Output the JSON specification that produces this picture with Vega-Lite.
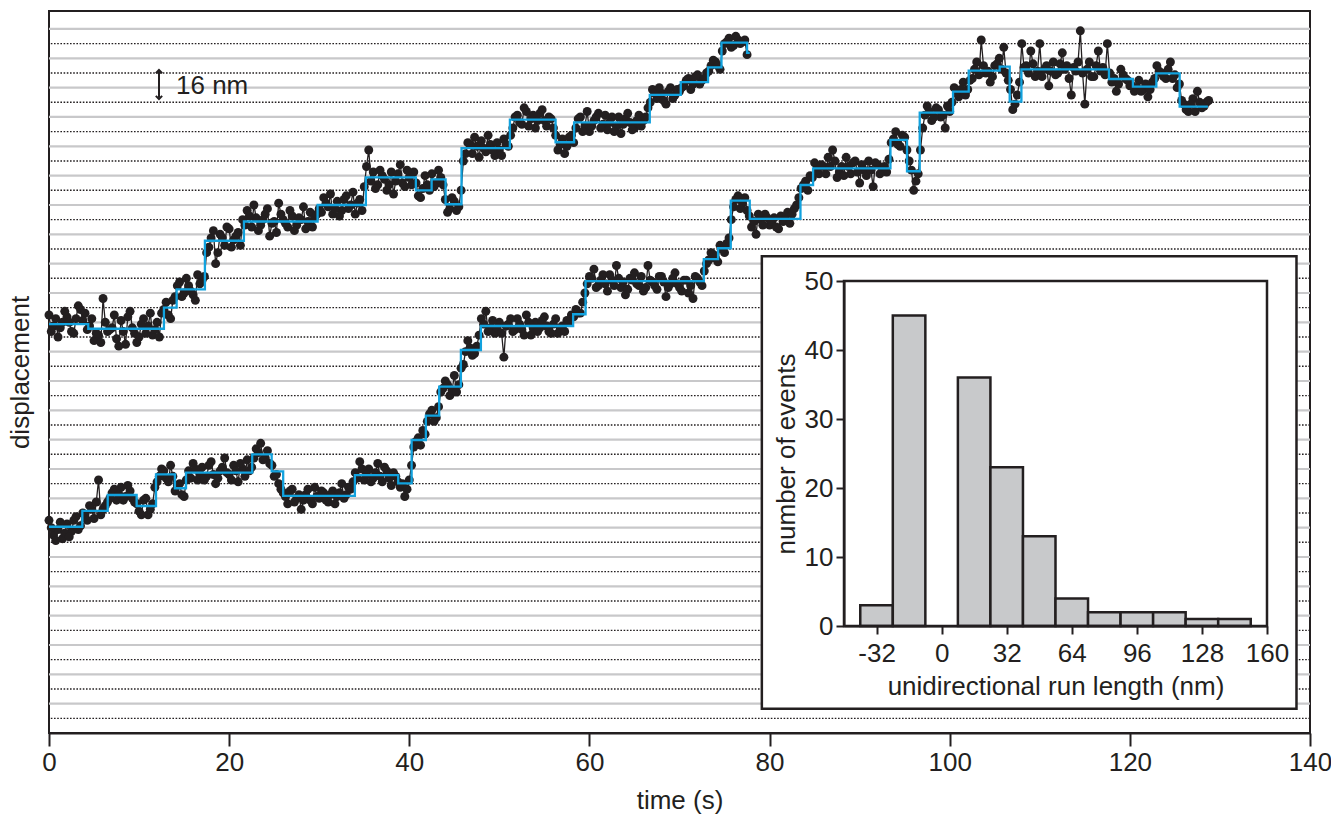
{
"$schema":"https://vega.github.io/schema/vega-lite/v6.json",
"width":1261,"height":722,
"autosize":{"type":"none"},
"padding":{"left":49,"top":11,"right":21,"bottom":82},
"background":"white",
"config":{"font":"Liberation Sans","view":{"stroke":"#231f20","strokeWidth":2},
"axis":{"labelFontSize":26,"titleFontSize":26,"titleFontWeight":"normal","labelColor":"#231f20","titleColor":"#231f20","domainColor":"#231f20","tickColor":"#231f20","domainWidth":2,"tickWidth":2,"grid":false,"labelFlush":false,"labelOverlap":false}},
"datasets":{
"grid":[{"y":16,"k":"g"},{"y":32,"k":"g"},{"y":48,"k":"g"},{"y":64,"k":"g"},{"y":80,"k":"g"},{"y":96,"k":"g"},{"y":112,"k":"g"},{"y":128,"k":"g"},{"y":144,"k":"g"},{"y":160,"k":"g"},{"y":176,"k":"g"},{"y":192,"k":"g"},{"y":208,"k":"g"},{"y":224,"k":"g"},{"y":240,"k":"g"},{"y":256,"k":"g"},{"y":272,"k":"g"},{"y":288,"k":"g"},{"y":304,"k":"g"},{"y":320,"k":"g"},{"y":336,"k":"g"},{"y":352,"k":"g"},{"y":368,"k":"g"},{"y":384,"k":"g"},
{"y":8,"k":"d"},{"y":24,"k":"d"},{"y":40,"k":"d"},{"y":56,"k":"d"},{"y":72,"k":"d"},{"y":88,"k":"d"},{"y":104,"k":"d"},{"y":120,"k":"d"},{"y":136,"k":"d"},{"y":152,"k":"d"},{"y":168,"k":"d"},{"y":184,"k":"d"},{"y":200,"k":"d"},{"y":216,"k":"d"},{"y":232,"k":"d"},{"y":248,"k":"d"},{"y":264,"k":"d"},{"y":280,"k":"d"},{"y":296,"k":"d"},{"y":312,"k":"d"},{"y":328,"k":"d"},{"y":344,"k":"d"},{"y":360,"k":"d"},{"y":376,"k":"d"}],
"tr1":[{"t":0,"y":228},{"t":0.5,"y":222},{"t":1,"y":216},{"t":1.5,"y":224},{"t":2,"y":227},{"t":2.5,"y":219},{"t":3,"y":226},{"t":3.5,"y":231},{"t":4,"y":229},{"t":4.5,"y":222},{"t":5,"y":214},{"t":5.5,"y":217},{"t":6,"y":237},{"t":6.5,"y":219},{"t":7,"y":221},{"t":7.5,"y":215},{"t":8,"y":225},{"t":8.5,"y":212},{"t":9,"y":230},{"t":9.5,"y":218},{"t":10,"y":216},{"t":10.5,"y":226},{"t":11,"y":222},{"t":11.5,"y":217},{"t":12,"y":224},{"t":12.5,"y":229},{"t":13,"y":235},{"t":13.5,"y":226},{"t":14,"y":238},{"t":14.5,"y":246},{"t":15,"y":240},{"t":15.5,"y":244},{"t":16,"y":239},{"t":16.5,"y":250},{"t":17,"y":247},{"t":17.5,"y":262},{"t":18,"y":270},{"t":18.5,"y":256},{"t":19,"y":272},{"t":19.5,"y":266},{"t":20,"y":275},{"t":20.5,"y":269},{"t":21,"y":273},{"t":21.5,"y":280},{"t":22,"y":285},{"t":22.5,"y":276},{"t":23,"y":281},{"t":23.5,"y":277},{"t":24,"y":283},{"t":24.5,"y":271},{"t":25,"y":279},{"t":25.5,"y":289},{"t":26,"y":280},{"t":26.5,"y":276},{"t":27,"y":282},{"t":27.5,"y":277},{"t":28,"y":280},{"t":28.5,"y":275},{"t":29,"y":284},{"t":29.5,"y":281},{"t":30,"y":286},{"t":30.5,"y":292},{"t":31,"y":287},{"t":31.5,"y":283},{"t":32,"y":290},{"t":32.5,"y":285},{"t":33,"y":293},{"t":33.5,"y":288},{"t":34,"y":283},{"t":34.5,"y":291},{"t":35,"y":298},{"t":35.5,"y":318},{"t":36,"y":306},{"t":36.5,"y":299},{"t":37,"y":304},{"t":37.5,"y":296},{"t":38,"y":306},{"t":38.5,"y":301},{"t":39,"y":310},{"t":39.5,"y":298},{"t":40,"y":303},{"t":40.5,"y":306},{"t":41,"y":293},{"t":41.5,"y":297},{"t":42,"y":299},{"t":42.5,"y":305},{"t":43,"y":300},{"t":43.5,"y":303},{"t":44,"y":291},{"t":44.5,"y":286},{"t":45,"y":290},{"t":45.5,"y":287},{"t":46,"y":312},{"t":46.5,"y":322},{"t":47,"y":316},{"t":47.5,"y":320},{"t":48,"y":323},{"t":48.5,"y":317},{"t":49,"y":321},{"t":49.5,"y":315},{"t":50,"y":318},{"t":50.5,"y":324},{"t":51,"y":320},{"t":51.5,"y":330},{"t":52,"y":337},{"t":52.5,"y":332},{"t":53,"y":339},{"t":53.5,"y":335},{"t":54,"y":330},{"t":54.5,"y":338},{"t":55,"y":334},{"t":55.5,"y":336},{"t":56,"y":330},{"t":56.5,"y":318},{"t":57,"y":324},{"t":57.5,"y":320},{"t":58,"y":326},{"t":58.5,"y":330},{"t":59,"y":336},{"t":59.5,"y":331},{"t":60,"y":328},{"t":60.5,"y":334},{"t":61,"y":338},{"t":61.5,"y":332},{"t":62,"y":329},{"t":62.5,"y":336},{"t":63,"y":331},{"t":63.5,"y":327},{"t":64,"y":335},{"t":64.5,"y":333},{"t":65,"y":330},{"t":65.5,"y":337},{"t":66,"y":334},{"t":66.5,"y":341},{"t":67,"y":351},{"t":67.5,"y":346},{"t":68,"y":349},{"t":68.5,"y":343},{"t":69,"y":352},{"t":69.5,"y":348},{"t":70,"y":350},{"t":70.5,"y":353},{"t":71,"y":357},{"t":71.5,"y":354},{"t":72,"y":359},{"t":72.5,"y":356},{"t":73,"y":360},{"t":73.5,"y":364},{"t":74,"y":366},{"t":74.5,"y":362},{"t":75,"y":376},{"t":75.5,"y":379},{"t":76,"y":375},{"t":76.5,"y":378},{"t":77,"y":377},{"t":77.5,"y":370},
{"t":0.25,"y":219},{"t":0.75,"y":226},{"t":1.25,"y":221},{"t":1.75,"y":230},{"t":2.25,"y":224},{"t":2.75,"y":218},{"t":3.25,"y":233},{"t":3.75,"y":225},{"t":4.25,"y":220},{"t":4.75,"y":226},{"t":5.25,"y":218},{"t":5.75,"y":213},{"t":6.25,"y":224},{"t":6.75,"y":220},{"t":7.25,"y":228},{"t":7.75,"y":211},{"t":8.25,"y":219},{"t":8.75,"y":227},{"t":9.25,"y":221},{"t":9.75,"y":213},{"t":10.25,"y":223},{"t":10.75,"y":218},{"t":11.25,"y":229},{"t":11.75,"y":220},{"t":12.25,"y":216},{"t":12.75,"y":231},{"t":13.25,"y":228},{"t":13.75,"y":236},{"t":14.25,"y":244},{"t":14.75,"y":238},{"t":15.25,"y":248},{"t":15.75,"y":241},{"t":16.25,"y":236},{"t":16.75,"y":245},{"t":17.25,"y":249},{"t":17.75,"y":265},{"t":18.25,"y":274},{"t":18.75,"y":262},{"t":19.25,"y":270},{"t":19.75,"y":276},{"t":20.25,"y":265},{"t":20.75,"y":271},{"t":21.25,"y":266},{"t":21.75,"y":277},{"t":22.25,"y":282},{"t":22.75,"y":288},{"t":23.25,"y":274},{"t":23.75,"y":280},{"t":24.25,"y":286},{"t":24.75,"y":278},{"t":25.25,"y":273},{"t":25.75,"y":283},{"t":26.25,"y":278},{"t":26.75,"y":285},{"t":27.25,"y":274},{"t":27.75,"y":281},{"t":28.25,"y":287},{"t":28.75,"y":279},{"t":29.25,"y":276},{"t":29.75,"y":283},{"t":30.25,"y":284},{"t":30.75,"y":289},{"t":31.25,"y":294},{"t":31.75,"y":286},{"t":32.25,"y":282},{"t":32.75,"y":291},{"t":33.25,"y":286},{"t":33.75,"y":295},{"t":34.25,"y":289},{"t":34.75,"y":285},{"t":35.25,"y":309},{"t":35.75,"y":301},{"t":36.25,"y":297},{"t":36.75,"y":307},{"t":37.25,"y":302},{"t":37.75,"y":299},{"t":38.25,"y":294},{"t":38.75,"y":305},{"t":39.25,"y":300},{"t":39.75,"y":307},{"t":40.25,"y":299},{"t":40.75,"y":300},{"t":41.25,"y":292},{"t":41.75,"y":304},{"t":42.25,"y":296},{"t":42.75,"y":298},{"t":43.25,"y":307},{"t":43.75,"y":299},{"t":44.25,"y":284},{"t":44.75,"y":292},{"t":45.25,"y":285},{"t":45.75,"y":296},{"t":46.25,"y":316},{"t":46.75,"y":321},{"t":47.25,"y":325},{"t":47.75,"y":314},{"t":48.25,"y":319},{"t":48.75,"y":326},{"t":49.25,"y":318},{"t":49.75,"y":322},{"t":50.25,"y":315},{"t":50.75,"y":321},{"t":51.25,"y":326},{"t":51.75,"y":336},{"t":52.25,"y":333},{"t":52.75,"y":341},{"t":53.25,"y":331},{"t":53.75,"y":337},{"t":54.25,"y":334},{"t":54.75,"y":340},{"t":55.25,"y":331},{"t":55.75,"y":335},{"t":56.25,"y":326},{"t":56.75,"y":321},{"t":57.25,"y":316},{"t":57.75,"y":325},{"t":58.25,"y":322},{"t":58.75,"y":335},{"t":59.25,"y":328},{"t":59.75,"y":339},{"t":60.25,"y":331},{"t":60.75,"y":336},{"t":61.25,"y":330},{"t":61.75,"y":337},{"t":62.25,"y":333},{"t":62.75,"y":328},{"t":63.25,"y":336},{"t":63.75,"y":332},{"t":64.25,"y":338},{"t":64.75,"y":329},{"t":65.25,"y":334},{"t":65.75,"y":331},{"t":66.25,"y":336},{"t":66.75,"y":344},{"t":67.25,"y":349},{"t":67.75,"y":352},{"t":68.25,"y":345},{"t":68.75,"y":350},{"t":69.25,"y":346},{"t":69.75,"y":351},{"t":70.25,"y":352},{"t":70.75,"y":356},{"t":71.25,"y":351},{"t":71.75,"y":358},{"t":72.25,"y":354},{"t":72.75,"y":357},{"t":73.25,"y":361},{"t":73.75,"y":367},{"t":74.25,"y":364},{"t":74.75,"y":372},{"t":75.25,"y":377},{"t":75.75,"y":374},{"t":76.25,"y":380},{"t":76.75,"y":376},{"t":77.25,"y":378}],
"tr2":[{"t":0,"y":116},{"t":0.5,"y":108},{"t":1,"y":111},{"t":1.5,"y":106},{"t":2,"y":114},{"t":2.5,"y":110},{"t":3,"y":118},{"t":3.5,"y":113},{"t":4,"y":119},{"t":4.5,"y":124},{"t":5,"y":117},{"t":5.5,"y":138},{"t":6,"y":122},{"t":6.5,"y":126},{"t":7,"y":131},{"t":7.5,"y":127},{"t":8,"y":134},{"t":8.5,"y":129},{"t":9,"y":132},{"t":9.5,"y":126},{"t":10,"y":121},{"t":10.5,"y":127},{"t":11,"y":119},{"t":11.5,"y":125},{"t":12,"y":137},{"t":12.5,"y":144},{"t":13,"y":139},{"t":13.5,"y":146},{"t":14,"y":132},{"t":14.5,"y":136},{"t":15,"y":129},{"t":15.5,"y":143},{"t":16,"y":147},{"t":16.5,"y":138},{"t":17,"y":145},{"t":17.5,"y":140},{"t":18,"y":148},{"t":18.5,"y":136},{"t":19,"y":143},{"t":19.5,"y":150},{"t":20,"y":141},{"t":20.5,"y":146},{"t":21,"y":137},{"t":21.5,"y":144},{"t":22,"y":149},{"t":22.5,"y":145},{"t":23,"y":155},{"t":23.5,"y":158},{"t":24,"y":150},{"t":24.5,"y":147},{"t":25,"y":140},{"t":25.5,"y":136},{"t":26,"y":131},{"t":26.5,"y":125},{"t":27,"y":133},{"t":27.5,"y":128},{"t":28,"y":122},{"t":28.5,"y":130},{"t":29,"y":127},{"t":29.5,"y":134},{"t":30,"y":128},{"t":30.5,"y":131},{"t":31,"y":126},{"t":31.5,"y":132},{"t":32,"y":129},{"t":32.5,"y":136},{"t":33,"y":130},{"t":33.5,"y":133},{"t":34,"y":142},{"t":34.5,"y":148},{"t":35,"y":138},{"t":35.5,"y":144},{"t":36,"y":139},{"t":36.5,"y":147},{"t":37,"y":137},{"t":37.5,"y":143},{"t":38,"y":135},{"t":38.5,"y":140},{"t":39,"y":134},{"t":39.5,"y":129},{"t":40,"y":138},{"t":40.5,"y":156},{"t":41,"y":161},{"t":41.5,"y":165},{"t":42,"y":170},{"t":42.5,"y":176},{"t":43,"y":172},{"t":43.5,"y":186},{"t":44,"y":192},{"t":44.5,"y":184},{"t":45,"y":195},{"t":45.5,"y":190},{"t":46,"y":201},{"t":46.5,"y":214},{"t":47,"y":206},{"t":47.5,"y":211},{"t":48,"y":226},{"t":48.5,"y":230},{"t":49,"y":221},{"t":49.5,"y":218},{"t":50,"y":224},{"t":50.5,"y":205},{"t":51,"y":223},{"t":51.5,"y":219},{"t":52,"y":226},{"t":52.5,"y":220},{"t":53,"y":228},{"t":53.5,"y":217},{"t":54,"y":224},{"t":54.5,"y":221},{"t":55,"y":227},{"t":55.5,"y":219},{"t":56,"y":223},{"t":56.5,"y":218},{"t":57,"y":222},{"t":57.5,"y":225},{"t":58,"y":228},{"t":58.5,"y":231},{"t":59,"y":229},{"t":59.5,"y":240},{"t":60,"y":249},{"t":60.5,"y":253},{"t":61,"y":244},{"t":61.5,"y":250},{"t":62,"y":241},{"t":62.5,"y":247},{"t":63,"y":255},{"t":63.5,"y":243},{"t":64,"y":239},{"t":64.5,"y":248},{"t":65,"y":251},{"t":65.5,"y":244},{"t":66,"y":241},{"t":66.5,"y":255},{"t":67,"y":246},{"t":67.5,"y":242},{"t":68,"y":249},{"t":68.5,"y":238},{"t":69,"y":245},{"t":69.5,"y":251},{"t":70,"y":243},{"t":70.5,"y":247},{"t":71,"y":240},{"t":71.5,"y":237},{"t":72,"y":248},{"t":72.5,"y":244},{"t":73,"y":256},{"t":73.5,"y":262},{"t":74,"y":259},{"t":74.5,"y":266},{"t":75,"y":262},{"t":75.5,"y":270},{"t":76,"y":287},{"t":76.5,"y":293},{"t":77,"y":289},{"t":77.5,"y":285},{"t":78,"y":276},{"t":78.5,"y":272},{"t":79,"y":280},{"t":79.5,"y":283},{"t":80,"y":277},{"t":80.5,"y":281},{"t":81,"y":275},{"t":81.5,"y":279},{"t":82,"y":284},{"t":82.5,"y":283},{"t":83,"y":288},{"t":83.5,"y":297},{"t":84,"y":301},{"t":84.5,"y":304},{"t":85,"y":311},{"t":85.5,"y":305},{"t":86,"y":309},{"t":86.5,"y":314},{"t":87,"y":318},{"t":87.5,"y":303},{"t":88,"y":309},{"t":88.5,"y":314},{"t":89,"y":305},{"t":89.5,"y":312},{"t":90,"y":300},{"t":90.5,"y":307},{"t":91,"y":312},{"t":91.5,"y":298},{"t":92,"y":310},{"t":92.5,"y":308},{"t":93,"y":306},{"t":93.5,"y":322},{"t":94,"y":328},{"t":94.5,"y":320},{"t":95,"y":325},{"t":95.5,"y":312},{"t":96,"y":296},{"t":96.5,"y":305},{"t":97,"y":330},{"t":97.5,"y":342},{"t":98,"y":334},{"t":98.5,"y":341},{"t":99,"y":336},{"t":99.5,"y":330},{"t":100,"y":339},{"t":100.5,"y":352},{"t":101,"y":347},{"t":101.5,"y":355},{"t":102,"y":351},{"t":102.5,"y":357},{"t":103,"y":366},{"t":103.5,"y":378},{"t":104,"y":360},{"t":104.5,"y":355},{"t":105,"y":364},{"t":105.5,"y":368},{"t":106,"y":374},{"t":106.5,"y":356},{"t":107,"y":340},{"t":107.5,"y":348},{"t":108,"y":376},{"t":108.5,"y":364},{"t":109,"y":372},{"t":109.5,"y":358},{"t":110,"y":376},{"t":110.5,"y":362},{"t":111,"y":353},{"t":111.5,"y":366},{"t":112,"y":360},{"t":112.5,"y":371},{"t":113,"y":364},{"t":113.5,"y":348},{"t":114,"y":361},{"t":114.5,"y":383},{"t":115,"y":343},{"t":115.5,"y":366},{"t":116,"y":358},{"t":116.5,"y":372},{"t":117,"y":363},{"t":117.5,"y":376},{"t":118,"y":355},{"t":118.5,"y":350},{"t":119,"y":362},{"t":119.5,"y":357},{"t":120,"y":353},{"t":120.5,"y":350},{"t":121,"y":356},{"t":121.5,"y":351},{"t":122,"y":347},{"t":122.5,"y":355},{"t":123,"y":364},{"t":123.5,"y":360},{"t":124,"y":357},{"t":124.5,"y":366},{"t":125,"y":359},{"t":125.5,"y":354},{"t":126,"y":343},{"t":126.5,"y":339},{"t":127,"y":346},{"t":127.5,"y":350},{"t":128,"y":341},{"t":128.5,"y":344},
{"t":0.25,"y":112},{"t":0.75,"y":105},{"t":1.25,"y":115},{"t":1.75,"y":109},{"t":2.25,"y":107},{"t":2.75,"y":116},{"t":3.25,"y":111},{"t":3.75,"y":120},{"t":4.25,"y":116},{"t":4.75,"y":122},{"t":5.25,"y":126},{"t":5.75,"y":119},{"t":6.25,"y":124},{"t":6.75,"y":128},{"t":7.25,"y":133},{"t":7.75,"y":130},{"t":8.25,"y":127},{"t":8.75,"y":135},{"t":9.25,"y":128},{"t":9.75,"y":125},{"t":10.25,"y":119},{"t":10.75,"y":128},{"t":11.25,"y":122},{"t":11.75,"y":134},{"t":12.25,"y":140},{"t":12.75,"y":143},{"t":13.25,"y":137},{"t":13.75,"y":140},{"t":14.25,"y":135},{"t":14.75,"y":130},{"t":15.25,"y":138},{"t":15.75,"y":139},{"t":16.25,"y":144},{"t":16.75,"y":141},{"t":17.25,"y":138},{"t":17.75,"y":146},{"t":18.25,"y":141},{"t":18.75,"y":139},{"t":19.25,"y":145},{"t":19.75,"y":142},{"t":20.25,"y":138},{"t":20.75,"y":143},{"t":21.25,"y":147},{"t":21.75,"y":140},{"t":22.25,"y":143},{"t":22.75,"y":150},{"t":23.25,"y":153},{"t":23.75,"y":149},{"t":24.25,"y":154},{"t":24.75,"y":146},{"t":25.25,"y":141},{"t":25.75,"y":133},{"t":26.25,"y":129},{"t":26.75,"y":132},{"t":27.25,"y":126},{"t":27.75,"y":130},{"t":28.25,"y":127},{"t":28.75,"y":133},{"t":29.25,"y":125},{"t":29.75,"y":129},{"t":30.25,"y":132},{"t":30.75,"y":127},{"t":31.25,"y":130},{"t":31.75,"y":125},{"t":32.25,"y":131},{"t":32.75,"y":128},{"t":33.25,"y":134},{"t":33.75,"y":137},{"t":34.25,"y":139},{"t":34.75,"y":144},{"t":35.25,"y":141},{"t":35.75,"y":137},{"t":36.25,"y":142},{"t":36.75,"y":140},{"t":37.25,"y":145},{"t":37.75,"y":139},{"t":38.25,"y":142},{"t":38.75,"y":137},{"t":39.25,"y":136},{"t":39.75,"y":133},{"t":40.25,"y":146},{"t":40.75,"y":159},{"t":41.25,"y":157},{"t":41.75,"y":163},{"t":42.25,"y":174},{"t":42.75,"y":170},{"t":43.25,"y":178},{"t":43.75,"y":188},{"t":44.25,"y":190},{"t":44.75,"y":187},{"t":45.25,"y":186},{"t":45.75,"y":199},{"t":46.25,"y":208},{"t":46.75,"y":210},{"t":47.25,"y":207},{"t":47.75,"y":217},{"t":48.25,"y":223},{"t":48.75,"y":219},{"t":49.25,"y":225},{"t":49.75,"y":221},{"t":50.25,"y":218},{"t":50.75,"y":222},{"t":51.25,"y":226},{"t":51.75,"y":220},{"t":52.25,"y":223},{"t":52.75,"y":217},{"t":53.25,"y":224},{"t":53.75,"y":221},{"t":54.25,"y":219},{"t":54.75,"y":225},{"t":55.25,"y":222},{"t":55.75,"y":218},{"t":56.25,"y":226},{"t":56.75,"y":221},{"t":57.25,"y":219},{"t":57.75,"y":224},{"t":58.25,"y":227},{"t":58.75,"y":229},{"t":59.25,"y":235},{"t":59.75,"y":245},{"t":60.25,"y":248},{"t":60.75,"y":243},{"t":61.25,"y":247},{"t":61.75,"y":245},{"t":62.25,"y":250},{"t":62.75,"y":244},{"t":63.25,"y":248},{"t":63.75,"y":246},{"t":64.25,"y":242},{"t":64.75,"y":247},{"t":65.25,"y":245},{"t":65.75,"y":249},{"t":66.25,"y":243},{"t":66.75,"y":247},{"t":67.25,"y":244},{"t":67.75,"y":249},{"t":68.25,"y":246},{"t":68.75,"y":243},{"t":69.25,"y":248},{"t":69.75,"y":245},{"t":70.25,"y":241},{"t":70.75,"y":247},{"t":71.25,"y":244},{"t":71.75,"y":249},{"t":72.25,"y":246},{"t":72.75,"y":252},{"t":73.25,"y":258},{"t":73.75,"y":261},{"t":74.25,"y":257},{"t":74.75,"y":264},{"t":75.25,"y":267},{"t":75.75,"y":280},{"t":76.25,"y":291},{"t":76.75,"y":286},{"t":77.25,"y":292},{"t":77.75,"y":282},{"t":78.25,"y":279},{"t":78.75,"y":283},{"t":79.25,"y":277},{"t":79.75,"y":281},{"t":80.25,"y":279},{"t":80.75,"y":276},{"t":81.25,"y":282},{"t":81.75,"y":280},{"t":82.25,"y":278},{"t":82.75,"y":286},{"t":83.25,"y":292},{"t":83.75,"y":299},{"t":84.25,"y":296},{"t":84.75,"y":303},{"t":85.25,"y":307},{"t":85.75,"y":310},{"t":86.25,"y":305},{"t":86.75,"y":309},{"t":87.25,"y":312},{"t":87.75,"y":306},{"t":88.25,"y":304},{"t":88.75,"y":309},{"t":89.25,"y":311},{"t":89.75,"y":306},{"t":90.25,"y":310},{"t":90.75,"y":304},{"t":91.25,"y":307},{"t":91.75,"y":311},{"t":92.25,"y":305},{"t":92.75,"y":309},{"t":93.25,"y":313},{"t":93.75,"y":324},{"t":94.25,"y":321},{"t":94.75,"y":326},{"t":95.25,"y":318},{"t":95.75,"y":307},{"t":96.25,"y":301},{"t":96.75,"y":318},{"t":97.25,"y":337},{"t":97.75,"y":339},{"t":98.25,"y":336},{"t":98.75,"y":340},{"t":99.25,"y":337},{"t":99.75,"y":342},{"t":100.25,"y":344},{"t":100.75,"y":349},{"t":101.25,"y":351},{"t":101.75,"y":348},{"t":102.25,"y":356},{"t":102.75,"y":362},{"t":103.25,"y":359},{"t":103.75,"y":364},{"t":104.25,"y":361},{"t":104.75,"y":358},{"t":105.25,"y":365},{"t":105.75,"y":362},{"t":106.25,"y":360},{"t":106.75,"y":351},{"t":107.25,"y":343},{"t":107.75,"y":355},{"t":108.25,"y":363},{"t":108.75,"y":360},{"t":109.25,"y":365},{"t":109.75,"y":361},{"t":110.25,"y":358},{"t":110.75,"y":364},{"t":111.25,"y":361},{"t":111.75,"y":359},{"t":112.25,"y":365},{"t":112.75,"y":362},{"t":113.25,"y":357},{"t":113.75,"y":363},{"t":114.25,"y":366},{"t":114.75,"y":360},{"t":115.25,"y":362},{"t":115.75,"y":358},{"t":116.25,"y":364},{"t":116.75,"y":361},{"t":117.25,"y":359},{"t":117.75,"y":360},{"t":118.25,"y":357},{"t":118.75,"y":354},{"t":119.25,"y":359},{"t":119.75,"y":356},{"t":120.25,"y":353},{"t":120.75,"y":352},{"t":121.25,"y":350},{"t":121.75,"y":354},{"t":122.25,"y":351},{"t":122.75,"y":357},{"t":123.25,"y":361},{"t":123.75,"y":358},{"t":124.25,"y":362},{"t":124.75,"y":357},{"t":125.25,"y":352},{"t":125.75,"y":345},{"t":126.25,"y":340},{"t":126.75,"y":343},{"t":127.25,"y":339},{"t":127.75,"y":344},{"t":128.25,"y":342},{"t":128.75,"y":345}],
"fit1":[{"t":0,"y":223},{"t":4.36,"y":220.5},{"t":12.76,"y":232},{"t":14.17,"y":242},{"t":17.31,"y":268.5},{"t":21.64,"y":279},{"t":29.82,"y":288},{"t":35.18,"y":303},{"t":40.73,"y":296},{"t":42.48,"y":302},{"t":44.03,"y":288.4},{"t":45.8,"y":319},{"t":51.17,"y":334.5},{"t":56.24,"y":322.2},{"t":58.3,"y":333},{"t":66.7,"y":348},{"t":70.14,"y":355},{"t":73.17,"y":363},{"t":74.66,"y":376.5},{"t":77.5,"y":371},{"t":77.8,"y":371}],
"fit2":[{"t":0,"y":112.5},{"t":3.7,"y":121.1},{"t":6.52,"y":129.8},{"t":9.73,"y":123.8},{"t":11.88,"y":141.1},{"t":13.98,"y":133.5},{"t":15.21,"y":142},{"t":22.56,"y":152},{"t":24.72,"y":142.7},{"t":26,"y":129.3},{"t":33.96,"y":140.7},{"t":38.77,"y":136.2},{"t":40.26,"y":159.8},{"t":41.84,"y":173.1},{"t":43.32,"y":188.9},{"t":45.73,"y":208.9},{"t":47.95,"y":222},{"t":58.19,"y":228.4},{"t":59.57,"y":246.5},{"t":72.7,"y":258.5},{"t":74.28,"y":264.4},{"t":75.69,"y":290.4},{"t":77.8,"y":280.4},{"t":83.43,"y":298.9},{"t":84.83,"y":308},{"t":93.42,"y":323.5},{"t":95.26,"y":306.4},{"t":96.67,"y":338.4},{"t":100.37,"y":349.8},{"t":102.11,"y":361.3},{"t":105.55,"y":363.5},{"t":106.66,"y":344.4},{"t":107.96,"y":362},{"t":117.68,"y":356.7},{"t":120.34,"y":352.5},{"t":122.94,"y":359.8},{"t":125.53,"y":341.6},{"t":128.67,"y":341.6}],
"hist":[{"lo":-40,"hi":-24,"n":3},{"lo":-24,"hi":-8,"n":45},{"lo":8,"hi":24,"n":36},{"lo":24,"hi":40,"n":23},{"lo":40,"hi":56,"n":13},{"lo":56,"hi":72,"n":4},{"lo":72,"hi":88,"n":2},{"lo":88,"hi":104,"n":2},{"lo":104,"hi":120,"n":2},{"lo":120,"hi":136,"n":1},{"lo":136,"hi":152,"n":1}]
},
"resolve":{"scale":{"x":"independent","y":"independent"},"axis":{"x":"independent","y":"independent"}},
"layer":[
{"data":{"name":"grid"},"transform":[{"filter":"datum.k == 'g'"}],
 "mark":{"type":"rule","color":"#c8c8ca","strokeWidth":2.2},
 "encoding":{"y":{"field":"y","type":"quantitative","scale":{"domain":[0,393.8],"nice":false,"zero":false},
  "axis":{"orient":"left","title":"displacement","domain":false,"ticks":false,"labels":false,"grid":false,"titlePadding":16}}}},
{"data":{"name":"grid"},"transform":[{"filter":"datum.k == 'd'"}],
 "mark":{"type":"rule","color":"#231f20","strokeWidth":1.4,"strokeDash":[1.6,1.6]},
 "encoding":{"y":{"field":"y","type":"quantitative","scale":{"domain":[0,393.8],"nice":false,"zero":false},"axis":null}}},
{"data":{"name":"tr2"},"mark":{"type":"line","color":"#231f20","strokeWidth":1.3},
 "encoding":{"x":{"field":"t","type":"quantitative","scale":{"domain":[0,140],"nice":false,"zero":false},
  "axis":{"orient":"bottom","values":[0,20,40,60,80,100,120,140],"title":"time (s)","tickSize":13,"labelPadding":3,"titlePadding":12}},
  "y":{"field":"y","type":"quantitative","scale":{"domain":[0,393.8],"nice":false,"zero":false},"axis":null}}},
{"data":{"name":"tr2"},"mark":{"type":"circle","color":"#231f20","size":80,"opacity":1},
 "encoding":{"x":{"field":"t","type":"quantitative","scale":{"domain":[0,140],"nice":false,"zero":false},"axis":null},
  "y":{"field":"y","type":"quantitative","scale":{"domain":[0,393.8],"nice":false,"zero":false},"axis":null}}},
{"data":{"name":"tr1"},"mark":{"type":"line","color":"#231f20","strokeWidth":1.3},
 "encoding":{"x":{"field":"t","type":"quantitative","scale":{"domain":[0,140],"nice":false,"zero":false},"axis":null},
  "y":{"field":"y","type":"quantitative","scale":{"domain":[0,393.8],"nice":false,"zero":false},"axis":null}}},
{"data":{"name":"tr1"},"mark":{"type":"circle","color":"#231f20","size":80,"opacity":1},
 "encoding":{"x":{"field":"t","type":"quantitative","scale":{"domain":[0,140],"nice":false,"zero":false},"axis":null},
  "y":{"field":"y","type":"quantitative","scale":{"domain":[0,393.8],"nice":false,"zero":false},"axis":null}}},
{"data":{"name":"fit2"},"mark":{"type":"line","color":"#12a2de","strokeWidth":2.3,"interpolate":"step-after"},
 "encoding":{"x":{"field":"t","type":"quantitative","scale":{"domain":[0,140],"nice":false,"zero":false},"axis":null},
  "y":{"field":"y","type":"quantitative","scale":{"domain":[0,393.8],"nice":false,"zero":false},"axis":null}}},
{"data":{"name":"fit1"},"mark":{"type":"line","color":"#12a2de","strokeWidth":2.3,"interpolate":"step-after"},
 "encoding":{"x":{"field":"t","type":"quantitative","scale":{"domain":[0,140],"nice":false,"zero":false},"axis":null},
  "y":{"field":"y","type":"quantitative","scale":{"domain":[0,393.8],"nice":false,"zero":false},"axis":null}}},
{"data":{"values":[{"t":12.21,"y":346.5,"y2":361}]},"mark":{"type":"rule","color":"#231f20","strokeWidth":2},
 "encoding":{"x":{"field":"t","type":"quantitative","scale":{"domain":[0,140],"nice":false,"zero":false},"axis":null},
  "y":{"field":"y","type":"quantitative","scale":{"domain":[0,393.8],"nice":false,"zero":false},"axis":null},"y2":{"field":"y2"}}},
{"data":{"values":[{"t":12.21,"y":361.6,"d":"up"},{"t":12.21,"y":345.8,"d":"down"}]},
 "mark":{"type":"point","filled":false,"color":"#231f20","strokeWidth":2,"size":40,"opacity":1},
 "encoding":{"x":{"field":"t","type":"quantitative","scale":{"domain":[0,140],"nice":false,"zero":false},"axis":null},
  "y":{"field":"y","type":"quantitative","scale":{"domain":[0,393.8],"nice":false,"zero":false},"axis":null},
  "shape":{"field":"d","type":"nominal","scale":{"domain":["up","down"],"range":["M-1,1L0,0L1,1","M-1,-1L0,0L1,-1"]},"legend":null}}},
{"data":{"values":[{"t":14.1,"y":353,"label":"16 nm"}]},
 "mark":{"type":"text","align":"left","baseline":"middle","fontSize":26,"color":"#231f20"},
 "encoding":{"x":{"field":"t","type":"quantitative","scale":{"domain":[0,140],"nice":false,"zero":false},"axis":null},
  "y":{"field":"y","type":"quantitative","scale":{"domain":[0,393.8],"nice":false,"zero":false},"axis":null},
  "text":{"field":"label"}}},
{"data":{"values":[{"x1":-88.4,"x2":174.5,"y1":-12,"y2":53.6}]},
 "mark":{"type":"rect","fill":"white","stroke":"#231f20","strokeWidth":2.5},
 "encoding":{"x":{"field":"x1","type":"quantitative","scale":{"domain":[-48,160],"range":[795,1218],"nice":false,"zero":false},"axis":null},
  "x2":{"field":"x2"},
  "y":{"field":"y1","type":"quantitative","scale":{"domain":[0,50],"range":[615,270],"nice":false,"zero":false},"axis":null},
  "y2":{"field":"y2"}}},
{"data":{"name":"hist"},
 "mark":{"type":"rect","fill":"#c8c9cb","stroke":"#231f20","strokeWidth":2.5},
 "encoding":{"x":{"field":"lo","type":"quantitative","scale":{"domain":[-48,160],"range":[795,1218],"nice":false,"zero":false},
   "axis":{"orient":"bottom","offset":-107,"values":[-32,0,32,64,96,128,160],"tickSize":8,"labelPadding":6,"title":"unidirectional run length (nm)","titlePadding":7,"zindex":1,"labelExpr":"datum.value < 0 ? '-' + abs(datum.value) : datum.label"}},
  "x2":{"field":"hi"},
  "y":{"field":"n","type":"quantitative","scale":{"domain":[0,50],"range":[615,270],"nice":false,"zero":false},
   "axis":{"orient":"left","offset":-795,"values":[0,10,20,30,40,50],"tickSize":8,"labelPadding":3,"title":"number of events","titlePadding":5,"zindex":1}},
  "y2":{"datum":0}}},
{"data":{"values":[{"x1":-48,"x2":160,"y1":0,"y2":50}]},
 "mark":{"type":"rect","fillOpacity":0,"stroke":"#231f20","strokeWidth":2.5},
 "encoding":{"x":{"field":"x1","type":"quantitative","scale":{"domain":[-48,160],"range":[795,1218],"nice":false,"zero":false},"axis":null},
  "x2":{"field":"x2"},
  "y":{"field":"y1","type":"quantitative","scale":{"domain":[0,50],"range":[615,270],"nice":false,"zero":false},"axis":null},
  "y2":{"field":"y2"}}}
]
}
